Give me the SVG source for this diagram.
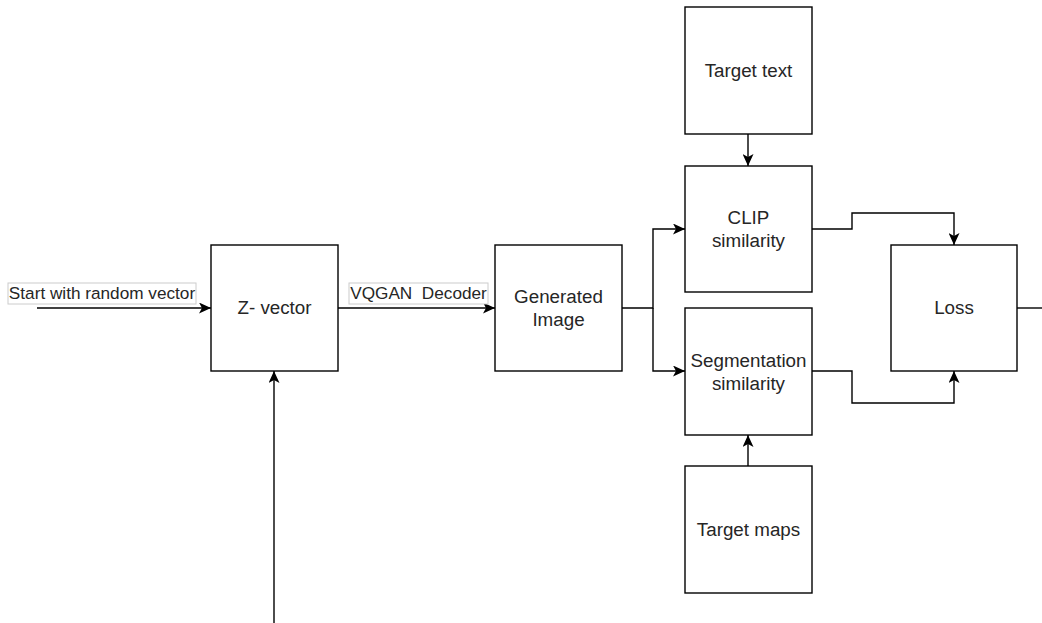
<svg xmlns="http://www.w3.org/2000/svg" width="1042" height="623" viewBox="0 0 1042 623">
  <style>
    .box { fill: #ffffff; stroke: #000000; stroke-width: 1.4; }
    .lbl { fill: #ffffff; stroke: #cccccc; stroke-width: 1; }
    .t { font-family: "Liberation Sans", Arial, sans-serif; font-size: 18.8px; fill: #262626; text-anchor: middle; white-space: pre; }
    .tl { font-family: "Liberation Sans", Arial, sans-serif; font-size: 17.2px; fill: #262626; text-anchor: middle; white-space: pre; }
    .edge { fill: none; stroke: #000000; stroke-width: 1.4; }
  </style>
  <defs>
    <marker id="arr" markerUnits="userSpaceOnUse" markerWidth="12" markerHeight="11" refX="12" refY="5.5" orient="auto" viewBox="0 0 12 11">
      <path d="M0,0 L12,5.5 L0,11 L3,5.5 Z" fill="#000000"/>
    </marker>
  </defs>
  <rect width="1042" height="623" fill="#ffffff"/>

  <g id="connectors">
    <path class="edge" d="M37,308 L211,308" marker-end="url(#arr)"/>
    <path class="edge" d="M338,308 L495,308" marker-end="url(#arr)"/>
    <path class="edge" d="M274,623 L274,371" marker-end="url(#arr)"/>
    <path class="edge" d="M622,308 L653,308 L653,229 L685,229" marker-end="url(#arr)"/>
    <path class="edge" d="M653,308 L653,371 L685,371" marker-end="url(#arr)"/>
    <path class="edge" d="M748,134 L748,166" marker-end="url(#arr)"/>
    <path class="edge" d="M748,466 L748,435" marker-end="url(#arr)"/>
    <path class="edge" d="M812,229 L852,229 L852,213 L954,213 L954,245" marker-end="url(#arr)"/>
    <path class="edge" d="M812,371 L852,371 L852,403 L954,403 L954,371" marker-end="url(#arr)"/>
    <path class="edge" d="M1017,308 L1042,308"/>
  </g>

  <g id="label-start">
    <rect class="lbl" x="8" y="283" width="188" height="21"/>
    <text class="tl" x="102" y="299">Start with random vector</text>
  </g>
  <g id="label-vqgan">
    <rect class="lbl" x="349" y="283" width="139" height="21"/>
    <text class="tl" x="418.5" y="299">VQGAN  Decoder</text>
  </g>

  <g id="z-vector">
    <rect class="box" x="211" y="245" width="127" height="126"/>
    <text class="t" x="274.5" y="314">Z- vector</text>
  </g>
  <g id="generated-image">
    <rect class="box" x="495" y="245" width="127" height="126"/>
    <text class="t" x="558.5" y="303">Generated</text>
    <text class="t" x="558.5" y="326">Image</text>
  </g>
  <g id="target-text">
    <rect class="box" x="685" y="7" width="127" height="127"/>
    <text class="t" x="748.5" y="77">Target text</text>
  </g>
  <g id="clip-similarity">
    <rect class="box" x="685" y="166" width="127" height="126"/>
    <text class="t" x="748.5" y="224">CLIP</text>
    <text class="t" x="748.5" y="247">similarity</text>
  </g>
  <g id="segmentation-similarity">
    <rect class="box" x="685" y="308" width="127" height="127"/>
    <text class="t" x="748.5" y="367">Segmentation</text>
    <text class="t" x="748.5" y="390">similarity</text>
  </g>
  <g id="target-maps">
    <rect class="box" x="685" y="466" width="127" height="127"/>
    <text class="t" x="748.5" y="536">Target maps</text>
  </g>
  <g id="loss">
    <rect class="box" x="891" y="245" width="126" height="126"/>
    <text class="t" x="954" y="314">Loss</text>
  </g>
</svg>
